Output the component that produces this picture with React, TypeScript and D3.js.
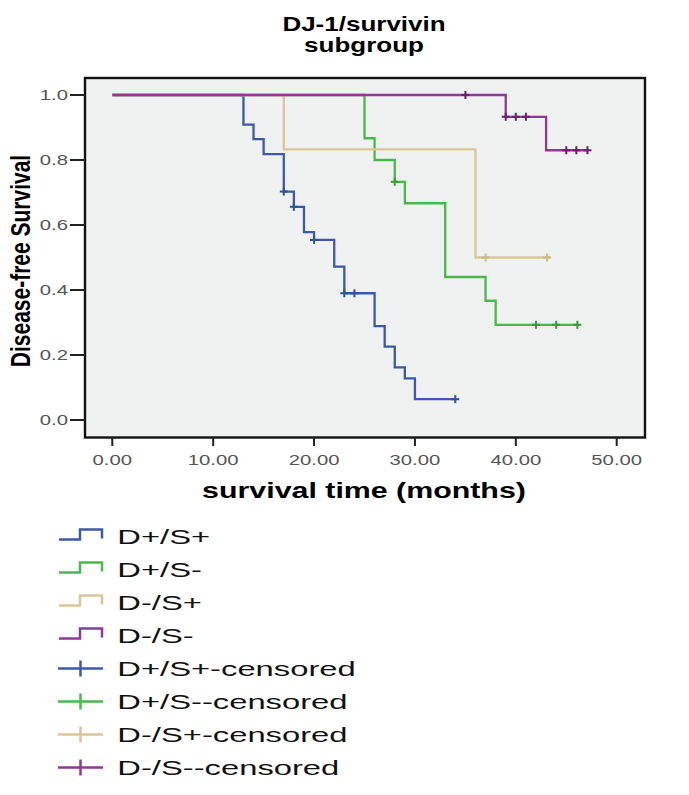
import * as d3 from "d3";

// Kaplan-Meier steps: time (months) / survival
const groups = ["D+/S+", "D+/S-", "D-/S+", "D-/S-"];

const bluTimes = [0, 13, 14, 15, 17, 18, 19, 20, 22, 23, 26, 27, 28, 29, 30, 34.1];
const bluSurv = [1, 0.909, 0.864, 0.818, 0.703, 0.656, 0.578, 0.554, 0.472, 0.39, 0.289, 0.226, 0.162, 0.128, 0.064, 0.064];
const bluCensT = [17, 18, 20, 23, 24, 34];
const bluCensS = [0.703, 0.656, 0.554, 0.39, 0.39, 0.064];

const grnTimes = [0, 25, 26, 28, 29, 33, 37, 38, 46.2];
const grnSurv = [1, 0.867, 0.8, 0.733, 0.667, 0.44, 0.367, 0.293, 0.293];
const grnCensT = [28, 42, 44, 46.1];
const grnCensS = [0.733, 0.293, 0.293, 0.293];

const tanTimes = [0, 17, 36, 43.4];
const tanSurv = [1, 0.833, 0.5, 0.5];
const tanCensT = [37, 43.1];
const tanCensS = [0.5, 0.5];

const purTimes = [0, 39, 43, 47.2];
const purSurv = [1, 0.933, 0.83, 0.83];
const purCensT = [35, 39, 40, 41, 45, 46, 47.1];
const purCensS = [1, 0.933, 0.933, 0.933, 0.83, 0.83, 0.83];

const xTicks = [0, 10, 20, 30, 40, 50];
const xTickLabels = ["0.00", "10.00", "20.00", "30.00", "40.00", "50.00"];
const yTicks = [0, 0.2, 0.4, 0.6, 0.8, 1.0];
const yTickLabels = ["0.0", "0.2", "0.4", "0.6", "0.8", "1.0"];

const lineColors = ["#3d5aa8", "#4cb84a", "#dcc596", "#8e3a92"];
const markColors = ["#2a5599", "#3a9a3a", "#cdbb85", "#6b1f6e"];

const FONT = "'Liberation Sans', Arial, sans-serif";

function Txt({ x, y, sx, size, weight, anchor, fill, children }: any) {
  return (
    <g transform={`translate(${x},${y}) scale(${sx},1)`}>
      <text
        x={0}
        y={0}
        fontFamily={FONT}
        fontSize={size}
        fontWeight={weight || "normal"}
        textAnchor={anchor || "start"}
        fill={fill || "#000"}
      >
        {children}
      </text>
    </g>
  );
}

export default function App() {
  const width = 689;
  const height = 795;

  const x = d3.scaleLinear().domain([0, 50]).range([112.3, 616.7]);
  const y = d3.scaleLinear().domain([0, 1]).range([420, 95]);

  const frame = { left: 85, top: 78, right: 645, bottom: 437.5 };

  const series = [
    { t: bluTimes, s: bluSurv, ct: bluCensT, cs: bluCensS },
    { t: grnTimes, s: grnSurv, ct: grnCensT, cs: grnCensS },
    { t: tanTimes, s: tanSurv, ct: tanCensT, cs: tanCensS },
    { t: purTimes, s: purSurv, ct: purCensT, cs: purCensS },
  ];

  const line = d3
    .line<[number, number]>()
    .curve(d3.curveStepAfter)
    .x((d) => x(d[0]))
    .y((d) => y(d[1]));

  const legendLabels = [
    ...groups,
    ...groups.map((g) => `${g}-censored`),
  ];
  const legY0 = 536.5;
  const legStep = 33;

  return (
    <svg
      width={width}
      height={height}
      style={{ position: "absolute", left: 0, top: 0, background: "#fff" }}
    >
      {/* title */}
      <Txt x={364} y={31} sx={1.3} size={20} weight="bold" anchor="middle">
        DJ-1/survivin
      </Txt>
      <Txt x={364} y={52} sx={1.3} size={20} weight="bold" anchor="middle">
        subgroup
      </Txt>

      {/* plot area */}
      <rect
        x={frame.left}
        y={frame.top}
        width={frame.right - frame.left}
        height={frame.bottom - frame.top}
        fill="#f0f1f1"
      />

      {series.map((se, i) => (
        <path
          key={"l" + i}
          d={line(se.t.map((t, j) => [t, se.s[j]] as [number, number])) || ""}
          fill="none"
          stroke={lineColors[i]}
          strokeWidth={2.3}
        />
      ))}

      {series.map((se, i) =>
        se.ct.map((t, j) => (
          <g key={`c${i}-${j}`} stroke={markColors[i]} strokeWidth={2}>
            <line x1={x(t) - 4} x2={x(t) + 4} y1={y(se.cs[j])} y2={y(se.cs[j])} />
            <line x1={x(t)} x2={x(t)} y1={y(se.cs[j]) - 4} y2={y(se.cs[j]) + 4} />
          </g>
        ))
      )}

      <rect
        x={frame.left}
        y={frame.top}
        width={frame.right - frame.left}
        height={frame.bottom - frame.top}
        fill="none"
        stroke="#111"
        strokeWidth={2.4}
      />

      {/* y axis */}
      {yTicks.map((v, i) => (
        <g key={"y" + i}>
          <line x1={70} x2={frame.left} y1={y(v)} y2={y(v)} stroke="#222" strokeWidth={2} />
          <Txt x={68} y={y(v) + 5} sx={1.45} size={14} anchor="end" fill="#555">
            {yTickLabels[i]}
          </Txt>
        </g>
      ))}
      <g transform={`translate(30,261) scale(1.3,1) rotate(-90)`}>
        <text
          x={0}
          y={0}
          fontFamily={FONT}
          fontSize={21}
          fontWeight="bold"
          textAnchor="middle"
          fill="#000"
        >
          Disease-free Survival
        </text>
      </g>

      {/* x axis */}
      {xTicks.map((v, i) => (
        <g key={"x" + i}>
          <line x1={x(v)} x2={x(v)} y1={frame.bottom} y2={446} stroke="#222" strokeWidth={2} />
          <Txt x={x(v)} y={464.5} sx={1.45} size={14} anchor="middle" fill="#555">
            {xTickLabels[i]}
          </Txt>
        </g>
      ))}
      <Txt x={364} y={498} sx={1.38} size={22} weight="bold" anchor="middle">
        survival time (months)
      </Txt>

      {/* legend */}
      {legendLabels.map((lab, i) => {
        const c = legY0 + i * legStep;
        const k = i % 4;
        return (
          <g key={"lg" + i}>
            {i < 4 ? (
              <path
                d={`M59,${c + 3}H80V${c - 7}H102V${c + 2}`}
                fill="none"
                stroke={lineColors[k]}
                strokeWidth={2.5}
              />
            ) : (
              <g stroke={lineColors[k]} strokeWidth={2.5}>
                <line x1={58} x2={103} y1={c} y2={c} />
                <line x1={80.5} x2={80.5} y1={c - 8} y2={c + 8} />
              </g>
            )}
            <Txt x={117.3} y={c + 7.4} sx={1.56} size={21} fill="#111">
              {lab}
            </Txt>
          </g>
        );
      })}
    </svg>
  );
}
